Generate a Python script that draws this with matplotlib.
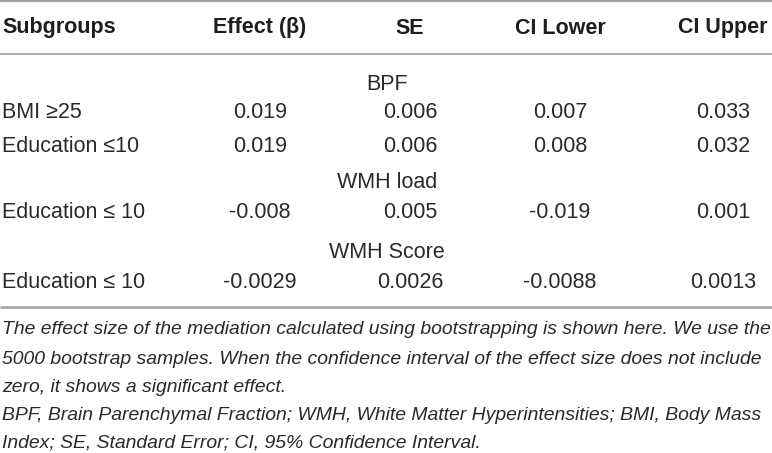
import matplotlib
matplotlib.use('Agg')
import matplotlib.pyplot as plt

# table content
columns = ['Subgroups', 'Effect (β)', 'SE', 'CI Lower', 'CI Upper']
sections = ['BPF', 'WMH load', 'WMH Score']
subgroups = [['BMI ≥25', 'Education ≤10'], ['Education ≤ 10'], ['Education ≤ 10']]
effect = [['0.019', '0.019'], ['-0.008'], ['-0.0029']]
se = [['0.006', '0.006'], ['0.005'], ['0.0026']]
ci_lower = [['0.007', '0.008'], ['-0.019'], ['-0.0088']]
ci_upper = [['0.033', '0.032'], ['0.001'], ['0.0013']]
notes = [
    'The effect size of the mediation calculated using bootstrapping is shown here. We use the',
    '5000 bootstrap samples. When the confidence interval of the effect size does not include',
    'zero, it shows a significant effect.',
    'BPF, Brain Parenchymal Fraction; WMH, White Matter Hyperintensities; BMI, Body Mass',
    'Index; SE, Standard Error; CI, 95% Confidence Interval.',
]

W, H = 772, 453
fig = plt.figure(figsize=(W / 100, H / 100), dpi=100)
ax = fig.add_axes([0, 0, 1, 1])
ax.set_xlim(0, W)
ax.set_ylim(H, 0)
ax.axis('off')

txt = '#2a2a2a'
rule = '#a0a0a0'
font = 'Liberation Sans'
note_font = ['Liberation Sans Narrow', 'Liberation Sans']
fs = 15.5

# column centres (first column left aligned)
col_x = [2, 260, 410, 560, 723]
header_y = 28
section_y = [84, 183, 252]
row_y = [[113, 146], [213], [282]]
section_x = 387

# rules
ax.plot([0, W], [1, 1], color=rule, lw=1.6, solid_capstyle='butt')
ax.plot([0, W], [54, 54], color=rule, lw=1.2, solid_capstyle='butt')
ax.plot([0, W], [307, 307], color=rule, lw=1.8, solid_capstyle='butt')

# header
for i, c in enumerate(columns):
    ax.text(col_x[i], header_y, c, ha='left' if i == 0 else 'center', va='center',
            fontsize=fs, fontweight='bold', family=font, color='#1e1e1e')

# body
for s, name in enumerate(sections):
    ax.text(section_x, section_y[s], name, ha='center', va='center',
            fontsize=fs, family=font, color=txt)
    for r, y in enumerate(row_y[s]):
        vals = [subgroups[s][r], effect[s][r], se[s][r], ci_lower[s][r], ci_upper[s][r]]
        for i, v in enumerate(vals):
            ax.text(col_x[i], y, v, ha='left' if i == 0 else 'center', va='center',
                    fontsize=fs, family=font, color=txt)

# footnotes, first line scaled to fill the width
note_y = [329, 359, 387, 415, 443]
renderer = fig.canvas.get_renderer()
probe = ax.text(2, note_y[0], notes[0], fontsize=13, style='italic', family=note_font)
w = probe.get_window_extent(renderer).width
probe.remove()
nfs = 13 * 766 / w
for y, line in zip(note_y, notes):
    ax.text(2, y, line, ha='left', va='center', fontsize=nfs, style='italic',
            family=note_font, color=txt)

fig.savefig('out.png', dpi=100)
